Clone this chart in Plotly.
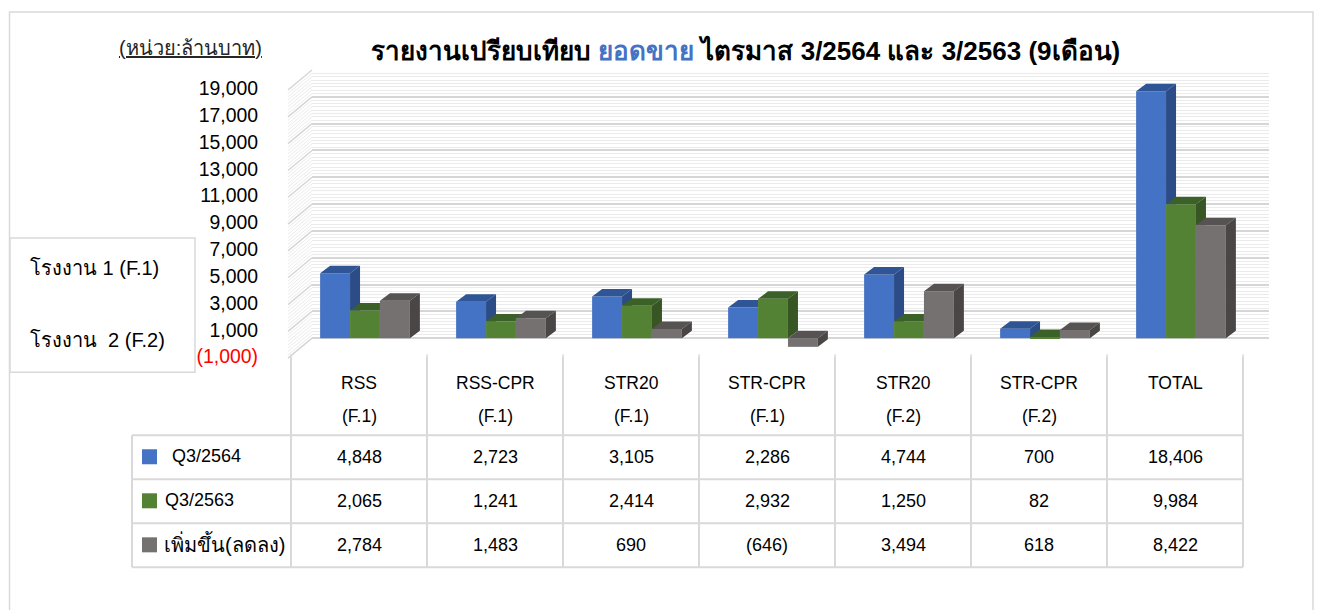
import plotly.graph_objects as go

# ---------------- data ----------------
categories = ["RSS", "RSS-CPR", "STR20", "STR-CPR", "STR20", "STR-CPR", "TOTAL"]
plants = ["(F.1)", "(F.1)", "(F.1)", "(F.1)", "(F.2)", "(F.2)", ""]
series_names = ["Q3/2564", "Q3/2563", "เพิ่มขึ้น(ลดลง)"]
q3_2564 = [4848, 2723, 3105, 2286, 4744, 700, 18406]
q3_2563 = [2065, 1241, 2414, 2932, 1250, 82, 9984]
change = [2784, 1483, 690, -646, 3494, 618, 8422]
y_tick_values = [-1000, 1000, 3000, 5000, 7000, 9000, 11000, 13000, 15000, 17000, 19000]
y_tick_labels = ["(1,000)", "1,000", "3,000", "5,000", "7,000", "9,000", "11,000",
                 "13,000", "15,000", "17,000", "19,000"]
title_parts = ["รายงานเปรียบเทียบ", "ยอดขาย", "ไตรมาส 3/2564 และ 3/2563 (9เดือน)"]
unit_label = "(หน่วย:ล้านบาท)"
plant_labels = ["โรงงาน 1 (F.1)", "โรงงาน\u00a0\u00a02 (F.2)"]

series_values = [q3_2564, q3_2563, change]

# ---------------- style ----------------
FONT = "Liberation Sans, Arial, Tahoma, sans-serif"
FRONT = ["#4472C4", "#548235", "#767171"]
TOP = ["#2F5597", "#3C6128", "#575353"]
SIDE = ["#2B4C87", "#375623", "#4A4646"]
GRID_MAJOR = "#d6d6d6"
GRID_MINOR = "#ebebeb"
TABLE_LINE = "#d9d9d9"

W, H = 1319, 610
PL, PR = 312.0, 1269.0          # plot area (back wall) in px
PT, PB = 70.0, 364.8
PX_CAT = 136.0                  # px per category
X0 = -(365.0 - PL) / PX_CAT
X1 = X0 + (PR - PL) / PX_CAT
Y_MIN, Y_MAX = -2000, 20000
PX_PER_Y = (PB - PT) / (Y_MAX - Y_MIN)
LABEL_SHIFT = 5.0 / PX_PER_Y    # front-plane labels sit 5px lower

BAR_W = 0.22
DX = 10.0 / PX_CAT              # depth offset (x units)
DY = 7.5 / PX_PER_Y             # depth offset (y units)


def px_x(px):
    return (px - PL) / (PR - PL)


def px_y(py):
    return (PB - py) / (PB - PT)


def y_to_px(v):
    return PB - (v - Y_MIN) * PX_PER_Y


def fmt(v):
    s = f"{abs(v):,}"
    return f"({s})" if v < 0 else s


def clip(poly, keep):
    """Sutherland-Hodgman clip of a convex polygon against one half-plane."""
    out = []
    n = len(poly)
    for i in range(n):
        a, b = poly[i], poly[(i + 1) % n]
        ia, ib = keep(a), keep(b)
        if ia:
            out.append(a)
        if ia != ib:
            out.append(keep(a, b))
    return out


def half_x_le(X):
    def f(a, b=None):
        if b is None:
            return a[0] <= X + 1e-12
        t = (X - a[0]) / (b[0] - a[0])
        return (X, a[1] + t * (b[1] - a[1]))
    return f


def half_y_ge(Y):
    def f(a, b=None):
        if b is None:
            return a[1] >= Y - 1e-12
        t = (Y - a[1]) / (b[1] - a[1])
        return (a[0] + t * (b[0] - a[0]), Y)
    return f


fig = go.Figure()
x_pos = list(range(len(categories)))

# front faces
for k, (name, vals) in enumerate(zip(series_names, series_values)):
    fig.add_trace(go.Bar(
        x=x_pos, y=vals, name=name, width=BAR_W, offset=-1.5 * BAR_W + k * BAR_W,
        marker=dict(color=FRONT[k], line=dict(width=0)), showlegend=False,
        hoverinfo="skip"))

# 3-D top and side faces
for k, vals in enumerate(series_values):
    tops_x, tops_y, sides_x, sides_y = [], [], [], []
    for i, v in enumerate(vals):
        xl = i - 1.5 * BAR_W + k * BAR_W
        xr = xl + BAR_W
        h = max(v, 0)
        b = min(v, 0)
        top = [(xl, h), (xr, h), (xr + DX, h + DY), (xl + DX, h + DY)]
        side = [(xr, b), (xr, h), (xr + DX, h + DY), (xr + DX, b + DY)]
        top_pieces, side_pieces = [top], [side]
        if k + 1 < len(series_values):
            g = series_values[k + 1][i]
            if g > 0:
                top_pieces = [clip(top, half_x_le(xr)), clip(top, half_y_ge(g))]
                side_pieces = [clip(side, half_y_ge(g))]
        for p in top_pieces:
            if len(p) >= 3:
                tops_x += [q[0] for q in p] + [p[0][0], None]
                tops_y += [q[1] for q in p] + [p[0][1], None]
        for p in side_pieces:
            if len(p) >= 3:
                sides_x += [q[0] for q in p] + [p[0][0], None]
                sides_y += [q[1] for q in p] + [p[0][1], None]
    for xs, ys, col in ((tops_x, tops_y, TOP[k]), (sides_x, sides_y, SIDE[k])):
        fig.add_trace(go.Scatter(x=xs, y=ys, mode="lines", fill="toself",
                                 fillcolor=col, line=dict(width=0, color=col),
                                 showlegend=False, hoverinfo="skip"))

# invisible trace to activate label axis
fig.add_trace(go.Scatter(x=[X0], y=[Y_MIN + LABEL_SHIFT], yaxis="y2", mode="markers",
                         marker=dict(opacity=0), showlegend=False, hoverinfo="skip"))

shapes = []
# left wall diagonals
minor_vals = [v for v in range(0, Y_MAX + 1, 250)]
for v in minor_vals:
    major = v % 2000 == 0
    py = y_to_px(v)
    shapes.append(dict(type="line", xref="paper", yref="paper",
                       x0=px_x(PL), y0=px_y(py), x1=px_x(PL - 24), y1=px_y(py + 20),
                       line=dict(color=GRID_MAJOR if major else GRID_MINOR,
                                 width=1.5 if major else 1), layer="below"))

# floor ticks at column boundaries
col_bounds = [i - 0.5 - 6.0 / PX_CAT for i in range(len(categories) + 1)]
for cb in col_bounds:
    px = PL + (cb - X0) * PX_CAT
    shapes.append(dict(type="line", xref="paper", yref="paper",
                       x0=px_x(px), x1=px_x(px), y0=px_y(354), y1=px_y(359),
                       line=dict(color=TABLE_LINE, width=1.5)))

# table lines
T_LEFT = 132.0
T_TOP = 357.0
ROW_LINES = [435.0, 479.0, 523.0, 567.0]
T_RIGHT = PL + (col_bounds[-1] - X0) * PX_CAT
for ry in ROW_LINES:
    shapes.append(dict(type="line", xref="paper", yref="paper",
                       x0=px_x(T_LEFT), x1=px_x(T_RIGHT), y0=px_y(ry), y1=px_y(ry),
                       line=dict(color=TABLE_LINE, width=2)))
for cb in col_bounds:
    px = PL + (cb - X0) * PX_CAT
    shapes.append(dict(type="line", xref="paper", yref="paper",
                       x0=px_x(px), x1=px_x(px), y0=px_y(T_TOP), y1=px_y(ROW_LINES[-1]),
                       line=dict(color=TABLE_LINE, width=2)))
shapes.append(dict(type="line", xref="paper", yref="paper",
                   x0=px_x(T_LEFT), x1=px_x(T_LEFT), y0=px_y(ROW_LINES[0]), y1=px_y(ROW_LINES[-1]),
                   line=dict(color=TABLE_LINE, width=2)))

# legend keys in the table
ROW_CENTERS = [456.5, 500.5, 544.5]
for k, rc in enumerate(ROW_CENTERS):
    shapes.append(dict(type="rect", xref="paper", yref="paper",
                       x0=px_x(142), x1=px_x(157), y0=px_y(rc - 7.5), y1=px_y(rc + 7.5),
                       fillcolor=FRONT[k], line=dict(width=0)))

# plant legend box
shapes.append(dict(type="rect", xref="paper", yref="paper",
                   x0=px_x(10), x1=px_x(195), y0=px_y(238), y1=px_y(372),
                   line=dict(color=TABLE_LINE, width=1.5), fillcolor="white"))
# outer frame
shapes.append(dict(type="rect", xref="paper", yref="paper",
                   x0=px_x(9.5), x1=px_x(1313), y0=px_y(12), y1=px_y(640),
                   line=dict(color=TABLE_LINE, width=1.5), layer="below"))


def ann(x, y, text, size, xref="paper", xanchor="center", color="#000000"):
    return dict(x=x, xref=xref, y=y, yref="paper", text=text, showarrow=False,
                xanchor=xanchor, yanchor="middle",
                font=dict(size=size, color=color, family=FONT))


annotations = []
# table header and cells
for i, (c, p) in enumerate(zip(categories, plants)):
    xc = i - 6.0 / PX_CAT
    annotations.append(ann(xc, px_y(383), c, 17.5, xref="x"))
    if p:
        annotations.append(ann(xc, px_y(416), p, 17.5, xref="x"))
    for k, vals in enumerate(series_values):
        annotations.append(ann(xc, px_y(ROW_CENTERS[k]), fmt(vals[i]), 18, xref="x"))
name_x = [170, 163, 162]
name_size = [18, 18, 20]
for k, nm in enumerate(series_names):
    annotations.append(ann(px_x(name_x[k]), px_y(ROW_CENTERS[k] - 1), nm, name_size[k],
                           xanchor="left"))

# title
annotations.append(ann(px_x(745), px_y(51),
                       f"<b>{title_parts[0]} <span style='color:#4472C4'>{title_parts[1]}</span> {title_parts[2]}</b>",
                       26))
annotations.append(ann(px_x(190), px_y(48), f"<u>{unit_label}</u>", 20, color="#262626"))
for lbl, py in zip(plant_labels, [268, 340]):
    annotations.append(ann(px_x(28), px_y(py), lbl, 20, xanchor="left"))

tick_text = [f"<span style='color:#FF0000'>{t}</span>" if v < 0 else t
             for v, t in zip(y_tick_values, y_tick_labels)]

fig.update_layout(
    width=W, height=H,
    margin=dict(l=PL, r=W - PR, t=PT, b=H - PB, pad=0),
    paper_bgcolor="white", plot_bgcolor="white",
    font=dict(family=FONT, size=17, color="#000000"),
    barmode="overlay",
    showlegend=False,
    xaxis=dict(range=[X0, X1], showgrid=False, zeroline=False, showticklabels=False,
               ticks="", showline=False, fixedrange=True),
    yaxis=dict(range=[Y_MIN, Y_MAX], tickvals=list(range(0, Y_MAX + 1, 2000)),
               showticklabels=False, ticks="", showgrid=True, gridcolor=GRID_MAJOR,
               gridwidth=1.5, zeroline=False, showline=False,
               minor=dict(tickvals=[v for v in minor_vals if v % 2000 != 0],
                          showgrid=True, gridcolor=GRID_MINOR, gridwidth=1, ticks=""),
               fixedrange=True),
    yaxis2=dict(range=[Y_MIN + LABEL_SHIFT, Y_MAX + LABEL_SHIFT], overlaying="y",
                side="left", tickvals=y_tick_values, ticktext=tick_text,
                showgrid=False, zeroline=False, showline=False, ticks="",
                ticklabelstandoff=53, tickfont=dict(size=19.4, color="#000000"),
                fixedrange=True),
    shapes=shapes,
    annotations=annotations,
)

fig.write_html("out.html", config={"displayModeBar": False},
               post_script="document.body.style.margin='0';document.body.style.overflow='hidden';")
